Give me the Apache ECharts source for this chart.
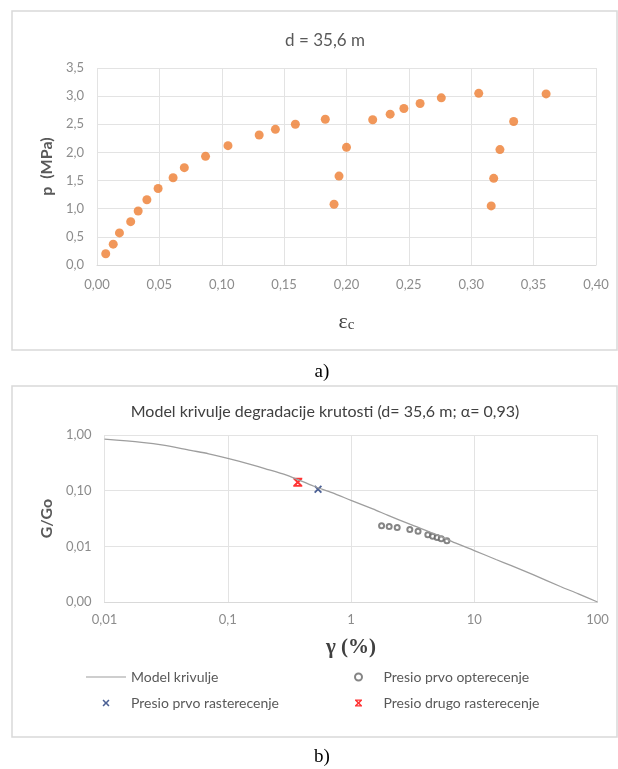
<!DOCTYPE html>
<html>
<head>
<meta charset="utf-8">
<script src="https://cdn.jsdelivr.net/npm/echarts@6/dist/echarts.min.js"></script>
<style>
  html, body { margin: 0; padding: 0; background: #fff; }
  #chart { width: 618px; height: 769px; }
</style>
</head>
<body>
<div id="chart"></div>
<script>
// a) pressure vs strain at d = 35,6 m
var strainValues = [0.007, 0.013, 0.018, 0.027, 0.033, 0.040, 0.049, 0.061, 0.070, 0.087,
  0.105, 0.130, 0.143, 0.159, 0.183, 0.200, 0.194, 0.190, 0.221, 0.235,
  0.246, 0.259, 0.276, 0.306, 0.334, 0.323, 0.318, 0.316, 0.360];
var pressureValues = [0.20, 0.37, 0.57, 0.77, 0.96, 1.16, 1.36, 1.55, 1.73, 1.93,
  2.12, 2.31, 2.41, 2.50, 2.59, 2.09, 1.58, 1.08, 2.58, 2.68,
  2.78, 2.87, 2.97, 3.05, 2.55, 2.05, 1.54, 1.05, 3.04];

// b) stiffness degradation
var modelGamma = [0.01, 0.02, 0.03, 0.05, 0.07, 0.1, 0.15, 0.2, 0.3, 0.5, 0.7, 1, 1.5, 2, 3, 5, 7, 10, 15, 20, 30, 50, 70, 100];
var modelRatio = [0.84, 0.74, 0.66, 0.53, 0.46, 0.38, 0.30, 0.25, 0.19, 0.12, 0.092, 0.067, 0.047, 0.036, 0.025, 0.016, 0.0115, 0.0084, 0.0058, 0.0045, 0.0031, 0.0019, 0.0014, 0.001];
var loadingGamma = [1.77, 2.04, 2.37, 3.0, 3.5, 4.2, 4.6, 5.0, 5.4, 6.0];
var loadingRatio = [0.0234, 0.0227, 0.0218, 0.020, 0.0186, 0.0162, 0.0151, 0.0144, 0.0137, 0.0126];
var unload1Gamma = [0.54];
var unload1Ratio = [0.106];
var unload2Gamma = [0.37];
var unload2Ratio = [0.142];

var SERIES_NAMES = ['Model krivulje', 'Presio prvo opterecenje', 'Presio prvo rasterecenje', 'Presio drugo rasterecenje'];

var FONT = 'Lato, "Open Sans", sans-serif';
var SERIF = '"Liberation Serif", "DejaVu Serif", serif';
var TICK_COLOR = '#8c8c8c';
var NAME_COLOR = '#595959';
var GRID_COLOR = '#e3e3e3';

var X_PATH = 'M0,1.6L1.6,0L5,3.4L8.4,0L10,1.6L6.6,5L10,8.4L8.4,10L5,6.6L1.6,10L0,8.4L3.4,5Z';
var X_SYMBOL = 'path://' + X_PATH;
var STAR_SYMBOL = 'path://' + X_PATH + 'M0,0L10,0L10,1.8L0,1.8Z M0,8.2L10,8.2L10,10L0,10Z';
var LINE_ICON = 'path://M0,0L40,0L40,1.2L0,1.2Z';

function zip(xs, ys) {
  return xs.map(function (x, i) { return [x, ys[i]]; });
}

function comma(s) { return String(s).replace('.', ','); }

var legendText = { fontFamily: FONT, fontSize: 14, color: NAME_COLOR };

var chart = echarts.init(document.getElementById('chart'), null, { renderer: 'canvas' });

chart.setOption({
  backgroundColor: '#fff',
  animation: false,
  graphic: [
    { type: 'rect', shape: { x: 12, y: 11, width: 605, height: 339 }, style: { fill: 'none', stroke: '#d9d9d9', lineWidth: 1.5 }, z: -1 },
    { type: 'rect', shape: { x: 12, y: 386, width: 605, height: 351 }, style: { fill: 'none', stroke: '#d9d9d9', lineWidth: 1.5 }, z: -1 },
    { type: 'text', x: 322, y: 372, style: { text: 'a)', font: '19px ' + SERIF, fill: '#000', textAlign: 'center', textVerticalAlign: 'middle' } },
    { type: 'text', x: 322, y: 757, style: { text: 'b)', font: '19px ' + SERIF, fill: '#000', textAlign: 'center', textVerticalAlign: 'middle' } }
  ],
  title: [
    { text: 'd = 35,6 m', left: 320, top: 27, textAlign: 'center',
      textStyle: { fontFamily: FONT, fontSize: 17, fontWeight: 'normal', color: NAME_COLOR } },
    { text: 'Model krivulje degradacije krutosti (d= 35,6 m; \u03b1= 0,93)', left: 320, top: 399, textAlign: 'center',
      textStyle: { fontFamily: FONT, fontSize: 16, fontWeight: 'normal', color: '#404040' } }
  ],
  grid: [
    { left: 97, top: 68, width: 499, height: 197 },
    { left: 104.5, top: 435, width: 493, height: 167 }
  ],
  legend: [
    { data: [{ name: SERIES_NAMES[0], icon: LINE_ICON }, SERIES_NAMES[2]],
      orient: 'vertical', left: 81, top: 665, itemWidth: 40, itemHeight: 7, itemGap: 12,
      textStyle: legendText },
    { data: [SERIES_NAMES[1], SERIES_NAMES[3]],
      orient: 'vertical', left: 349, top: 665, itemWidth: 40, itemHeight: 7, itemGap: 12,
      textStyle: legendText }
  ],
  xAxis: [
    {
      gridIndex: 0, type: 'value', min: 0, max: 0.4, interval: 0.05,
      name: '{e|\u03b5}{s|c}', nameLocation: 'middle', nameGap: 46,
      nameTextStyle: { rich: {
        e: { fontFamily: SERIF, fontSize: 22, color: '#404040', lineHeight: 22 },
        s: { fontFamily: SERIF, fontSize: 15, color: '#404040', lineHeight: 10, verticalAlign: 'bottom' }
      } },
      axisLine: { lineStyle: { color: '#d9d9d9' } },
      axisTick: { show: false },
      axisLabel: { margin: 13, fontFamily: FONT, fontSize: 13, color: TICK_COLOR,
        formatter: function (v) { return comma(v.toFixed(2)); } },
      splitLine: { lineStyle: { color: GRID_COLOR } }
    },
    {
      gridIndex: 1, type: 'log', logBase: 10, min: 0.01, max: 100,
      name: '\u03b3 (%)', nameLocation: 'middle', nameGap: 35,
      nameTextStyle: { fontFamily: SERIF, fontSize: 21, fontWeight: 'bold', color: '#404040' },
      axisLine: { lineStyle: { color: '#d9d9d9' } },
      axisTick: { show: false },
      axisLabel: { margin: 11, fontFamily: FONT, fontSize: 13, color: TICK_COLOR,
        formatter: function (v) { return comma(Number(v.toPrecision(6))); } },
      splitLine: { lineStyle: { color: GRID_COLOR } }
    }
  ],
  yAxis: [
    {
      gridIndex: 0, type: 'value', min: 0, max: 3.5, interval: 0.5,
      name: 'p  (MPa)', nameLocation: 'middle', nameGap: 42,
      nameTextStyle: { fontFamily: FONT, fontSize: 16, fontWeight: 'bold', color: NAME_COLOR },
      axisLine: { show: false },
      axisTick: { show: false },
      axisLabel: { margin: 13, fontFamily: FONT, fontSize: 13, color: TICK_COLOR,
        formatter: function (v) { return comma(v.toFixed(1)); } },
      splitLine: { lineStyle: { color: GRID_COLOR } }
    },
    {
      gridIndex: 1, type: 'log', logBase: 10, min: 0.001, max: 1,
      name: 'G/Go', nameLocation: 'middle', nameGap: 45,
      nameTextStyle: { fontFamily: FONT, fontSize: 16, fontWeight: 'bold', color: NAME_COLOR },
      axisLine: { show: false },
      axisTick: { show: false },
      axisLabel: { margin: 13, fontFamily: FONT, fontSize: 13, color: TICK_COLOR,
        formatter: function (v) { return comma(v.toFixed(2)); } },
      splitLine: { lineStyle: { color: GRID_COLOR } }
    }
  ],
  series: [
    {
      name: 'p', type: 'scatter', xAxisIndex: 0, yAxisIndex: 0,
      data: zip(strainValues, pressureValues),
      symbol: 'circle', symbolSize: 9,
      itemStyle: { color: '#ed7d31' }
    },
    {
      name: SERIES_NAMES[0], type: 'line', xAxisIndex: 1, yAxisIndex: 1,
      data: zip(modelGamma, modelRatio),
      symbol: 'none', smooth: 0.3,
      lineStyle: { color: '#9e9e9e', width: 1.3 },
      itemStyle: { color: '#9e9e9e' }
    },
    {
      name: SERIES_NAMES[1], type: 'scatter', xAxisIndex: 1, yAxisIndex: 1,
      data: zip(loadingGamma, loadingRatio),
      symbol: 'emptyCircle', symbolSize: 5,
      itemStyle: { color: '#666', borderWidth: 1 }
    },
    {
      name: SERIES_NAMES[2], type: 'scatter', xAxisIndex: 1, yAxisIndex: 1,
      data: zip(unload1Gamma, unload1Ratio),
      symbol: X_SYMBOL, symbolSize: 8,
      itemStyle: { color: '#1f3a7a' }
    },
    {
      name: SERIES_NAMES[3], type: 'scatter', xAxisIndex: 1, yAxisIndex: 1,
      data: zip(unload2Gamma, unload2Ratio),
      symbol: STAR_SYMBOL, symbolSize: 9,
      itemStyle: { color: '#ff0000' }
    }
  ]
});
</script>
</body>
</html>
